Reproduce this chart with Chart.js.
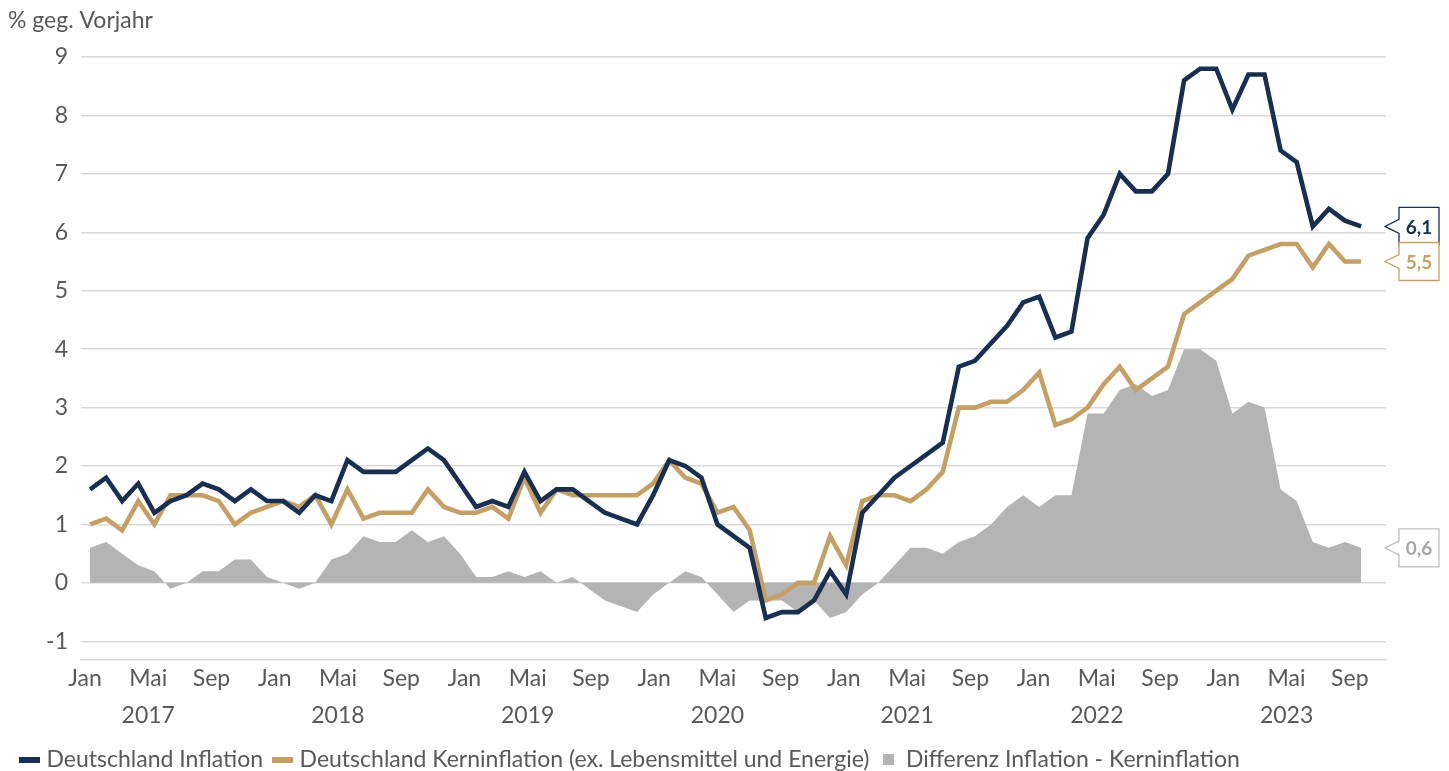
<!DOCTYPE html>
<html><head><meta charset="utf-8">
<script src="https://cdn.jsdelivr.net/npm/chart.js@4.4.0/dist/chart.umd.min.js"></script>
<style>html,body{margin:0;padding:0;background:#fff;overflow:hidden}#wrap{position:relative;width:1449px;height:771px}</style>
</head><body><div id="wrap"><canvas id="c"></canvas></div>
<script>
// ---- data (monthly, Jan 2017 - Aug 2023) ----
const monthNames = ['Jan','Feb','Mär','Apr','Mai','Jun','Jul','Aug','Sep','Okt','Nov','Dez'];
const startYear = 2017;
const inflation = [1.6,1.8,1.4,1.7,1.2,1.4,1.5,1.7,1.6,1.4,1.6,1.4,
  1.4,1.2,1.5,1.4,2.1,1.9,1.9,1.9,2.1,2.3,2.1,1.7,
  1.3,1.4,1.3,1.9,1.4,1.6,1.6,1.4,1.2,1.1,1.0,1.5,
  2.1,2.0,1.8,1.0,0.8,0.6,-0.6,-0.5,-0.5,-0.3,0.2,-0.2,
  1.2,1.5,1.8,2.0,2.2,2.4,3.7,3.8,4.1,4.4,4.8,4.9,
  4.2,4.3,5.9,6.3,7.0,6.7,6.7,7.0,8.6,8.8,8.8,8.1,
  8.7,8.7,7.4,7.2,6.1,6.4,6.2,6.1];
const coreInflation = [1.0,1.1,0.9,1.4,1.0,1.5,1.5,1.5,1.4,1.0,1.2,1.3,
  1.4,1.3,1.5,1.0,1.6,1.1,1.2,1.2,1.2,1.6,1.3,1.2,
  1.2,1.3,1.1,1.8,1.2,1.6,1.5,1.5,1.5,1.5,1.5,1.7,
  2.1,1.8,1.7,1.2,1.3,0.9,-0.3,-0.2,0.0,0.0,0.8,0.3,
  1.4,1.5,1.5,1.4,1.6,1.9,3.0,3.0,3.1,3.1,3.3,3.6,
  2.7,2.8,3.0,3.4,3.7,3.3,3.5,3.7,4.6,4.8,5.0,5.2,
  5.6,5.7,5.8,5.8,5.4,5.8,5.5,5.5];
const difference = [0.6,0.7,0.5,0.3,0.2,-0.1,0.0,0.2,0.2,0.4,0.4,0.1,
  0.0,-0.1,0.0,0.4,0.5,0.8,0.7,0.7,0.9,0.7,0.8,0.5,
  0.1,0.1,0.2,0.1,0.2,0.0,0.1,-0.1,-0.3,-0.4,-0.5,-0.2,
  0.0,0.2,0.1,-0.2,-0.5,-0.3,-0.3,-0.3,-0.5,-0.3,-0.6,-0.5,
  -0.2,0.0,0.3,0.6,0.6,0.5,0.7,0.8,1.0,1.3,1.5,1.3,
  1.5,1.5,2.9,2.9,3.3,3.4,3.2,3.3,4.0,4.0,3.8,2.9,
  3.1,3.0,1.6,1.4,0.7,0.6,0.7,0.6];
const seriesNames = ['Deutschland Inflation','Deutschland Kerninflation (ex. Lebensmittel und Energie)','Differenz Inflation - Kerninflation'];
const yTickStep = 1;
const xTickStep = 4;   // a label every 4 months: Jan, Mai, Sep
const yAxisLabel = '% geg. Vorjahr';

const categories = inflation.map((_, i) => monthNames[i % 12] + ' ' + (startYear + Math.floor(i / 12)));

// ---- styling ----
const NAVY = '#182f52', TAN = '#c5a066', GREY = '#b4b4b4', TXT = '#595959', GRID = '#d9d9d9';
Chart.defaults.font.family = 'Lato, "Open Sans", "Noto Sans", sans-serif';
Chart.defaults.color = TXT;

function marker(w, h, color) {
  const c = document.createElement('canvas'); c.width = w; c.height = h;
  const g = c.getContext('2d'); g.fillStyle = color; g.fillRect(0, 0, w, h); return c;
}
const markers = [marker(21, 6, NAVY), marker(21, 6, TAN), marker(11, 11, GREY)];

const toXY = arr => arr.map((v, i) => ({x: i, y: v}));

const callouts = {
  id: 'callouts',
  afterDatasetsDraw(chart) {
    const {ctx, chartArea, scales: {y}} = chart;
    chart.data.datasets.forEach(ds => {
      const last = ds.data[ds.data.length - 1].y;
      const py = y.getPixelForValue(last);
      const tipX = chartArea.right - 1, bx = chartArea.right + 13, bw = 40, bh = 38, ah = 7;
      const top = py - bh / 2;
      ctx.save();
      ctx.fillStyle = '#fff'; ctx.strokeStyle = ds.calloutBorder; ctx.lineWidth = 1.3;
      ctx.beginPath();
      ctx.moveTo(bx, py - ah); ctx.lineTo(bx, top); ctx.lineTo(bx + bw, top);
      ctx.lineTo(bx + bw, top + bh); ctx.lineTo(bx, top + bh); ctx.lineTo(bx, py + ah);
      ctx.lineTo(tipX, py); ctx.closePath();
      ctx.fill(); ctx.stroke();
      ctx.fillStyle = ds.calloutText;
      ctx.font = 'bold 19px Lato, "Open Sans", sans-serif';
      ctx.textAlign = 'center'; ctx.textBaseline = 'middle';
      ctx.fillText(last.toFixed(1).replace('.', ','), bx + bw / 2, py + 1);
      ctx.restore();
    });
  }
};
const axisTitle = {
  id: 'axisTitle',
  afterDraw(chart) {
    const ctx = chart.ctx;
    ctx.save();
    ctx.fillStyle = TXT; ctx.font = '23px Lato, "Open Sans", sans-serif';
    ctx.textAlign = 'left'; ctx.textBaseline = 'middle';
    ctx.fillText(yAxisLabel, 8, 21);
    ctx.restore();
  }
};

new Chart(document.getElementById('c'), {
  type: 'line',
  data: {
    labels: categories,
    datasets: [
      {label: seriesNames[0], data: toXY(inflation), borderColor: NAVY, backgroundColor: NAVY, borderWidth: 4.6,
       pointRadius: 0, fill: false, tension: 0, calloutBorder: NAVY, calloutText: NAVY},
      {label: seriesNames[1], data: toXY(coreInflation), borderColor: TAN, backgroundColor: TAN, borderWidth: 4.6,
       pointRadius: 0, fill: false, tension: 0, calloutBorder: TAN, calloutText: TAN},
      {label: seriesNames[2], data: toXY(difference), borderColor: GREY, backgroundColor: GREY, borderWidth: 0,
       pointRadius: 0, fill: 'origin', tension: 0, calloutBorder: '#bfbfbf', calloutText: '#a6a6a6'}
    ]
  },
  options: {
    responsive: true, maintainAspectRatio: false, animation: false,
    layout: {padding: {top: 57, right: 63, left: 10, bottom: -10}},
    plugins: {
      tooltip: {enabled: false},
      legend: {
        position: 'bottom', align: 'start',
        labels: {
          usePointStyle: true, pointStyleWidth: 11, padding: 14, color: TXT, font: {size: 23},
          generateLabels(chart) {
            return chart.data.datasets.map((ds, i) => ({
              text: ds.label, pointStyle: markers[i], fillStyle: ds.backgroundColor,
              strokeStyle: ds.backgroundColor, lineWidth: 0, hidden: false, datasetIndex: i, fontColor: TXT
            }));
          }
        }
      }
    },
    scales: {
      x: {type: 'linear', display: false, min: -0.56, max: 80.55},
      xl: {
        type: 'linear', position: 'bottom', min: -0.253, max: 82.29,
        grid: {display: false, drawTicks: false},
        border: {display: true, color: GRID, width: 1.5},
        ticks: {
          stepSize: xTickStep, includeBounds: false, autoSkip: false, maxRotation: 0,
          color: TXT, font: {size: 23, lineHeight: 1.6}, padding: 0,
          callback(v) {
            const idx = Math.round(v), m = idx % 12, yr = startYear + Math.floor(idx / 12);
            return m === 4 ? [monthNames[m], String(yr)] : monthNames[m];
          }
        },
        afterFit(s) { s.height = 74; }
      },
      y: {
        min: -1.32, max: 9,
        grid: {color: GRID, lineWidth: 1.5, drawTicks: false},
        border: {display: false},
        ticks: {stepSize: yTickStep, includeBounds: false, color: TXT, font: {size: 23}, padding: 13},
        afterFit(s) { s.width = 71; }
      }
    }
  },
  plugins: [callouts, axisTitle]
});
</script>
</body></html>
